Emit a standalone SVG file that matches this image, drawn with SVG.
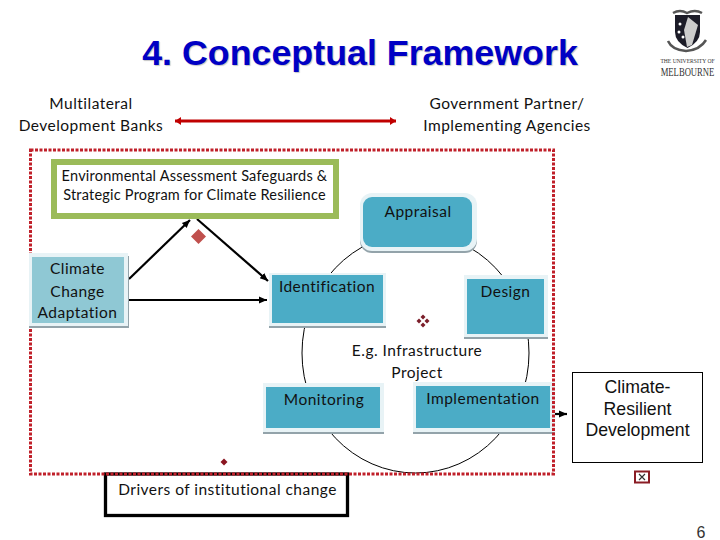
<svg xmlns="http://www.w3.org/2000/svg" width="720" height="540" viewBox="0 0 720 540">
<style>
text{font-family:"Lato","Carlito","Noto Sans",sans-serif;font-size:15.5px;fill:#111;text-anchor:middle;letter-spacing:.47px}
.title{font-family:"Liberation Sans",Arial,sans-serif;font-weight:bold;font-size:35.8px;fill:#0000c4;letter-spacing:0;text-shadow:1px 1px 1px #c4c4c4}
.ar{font-family:"Liberation Sans",Arial,sans-serif;font-size:17.7px;letter-spacing:0}
.sm{font-size:14.5px;letter-spacing:.22px}
.glow{fill:#e8f3f6}
.shade{fill:#93a3aa}
.blue{fill:#4bacc6}
.ln{fill:none;stroke:#000;stroke-width:2.2}
.thin{fill:none;stroke:#000;stroke-width:1}
.logo{font-family:"Liberation Serif",serif;letter-spacing:0;fill:#333}
</style>
<defs>
<marker id="bk" markerUnits="userSpaceOnUse" markerWidth="10" markerHeight="10" refX="8" refY="5" orient="auto"><path d="M0 1.500L8 5L0 8.500Z" fill="#000"/></marker>
<marker id="red" markerUnits="userSpaceOnUse" markerWidth="10" markerHeight="10" refX="6" refY="5" orient="auto-start-reverse"><path d="M0 1L6 5L0 9Z" fill="#c00000"/></marker>
</defs>
<rect width="720" height="540" fill="#fff"/>
<text class="title" x="360" y="65">4. Conceptual Framework</text>

<g id="logo">
<path d="M675 15H700V32Q700 42 687.500 48Q675 42 675 32Z" fill="#1c1c28"/>
<path d="M688 17L698 25L692 45L687 47L684 30Z" fill="#ccc"/>
<circle cx="680" cy="24" r="1.500" fill="#fff"/><circle cx="679" cy="32" r="1.500" fill="#fff"/><circle cx="683" cy="37" r="1.500" fill="#fff"/>
<path d="M673 13Q680 9 687 13Q695 9 702 13M668 41Q672 50 686 51Q700 50 706 40" fill="none" stroke="#555" stroke-width="2.500"/>
<text class="logo" x="687.500" y="63" style="font-size:5.600px">THE UNIVERSITY OF</text>
<text class="logo" transform="translate(687.500 76) scale(.72 1)" x="0" y="0" style="font-size:12px">MELBOURNE</text>
</g>

<g id="multilateral"><text x="91" y="109">Multilateral</text><text x="91" y="131">Development Banks</text></g>
<g id="government"><text x="507" y="109">Government Partner/</text><text x="507" y="131">Implementing Agencies</text></g>

<g id="connectors">
<ellipse class="thin" cx="415.500" cy="353" rx="113.500" ry="120"/>
<line x1="175" y1="121" x2="396" y2="121" stroke="#c00000" stroke-width="3" marker-start="url(#red)" marker-end="url(#red)"/>
<line class="ln" x1="129" y1="279" x2="190" y2="220" marker-end="url(#bk)"/>
<line class="ln" x1="197" y1="219" x2="268" y2="281" marker-end="url(#bk)"/>
<line class="ln" x1="128" y1="300" x2="267" y2="300" marker-end="url(#bk)"/>
<line class="ln" x1="555" y1="414" x2="567" y2="414" marker-end="url(#bk)"/>
</g>

<g id="identification"><rect class="shade" x="269" y="275" width="117" height="53"/><rect class="glow" x="269" y="273" width="117" height="53"/><rect class="blue" x="272" y="275" width="111" height="48"/><text x="327" y="292">Identification</text></g>
<g id="appraisal"><rect class="shade" x="360" y="196" width="117" height="57" rx="12"/><rect class="glow" x="360" y="193" width="117" height="58" rx="12"/><rect class="blue" x="363" y="197" width="109" height="50" rx="9"/><text x="418" y="217">Appraisal</text></g>
<g id="design"><rect class="shade" x="464" y="278" width="84" height="61"/><rect class="glow" x="464" y="275" width="84" height="62"/><rect class="blue" x="467" y="279" width="77" height="55"/><text x="505.500" y="297">Design</text></g>
<g id="monitoring"><rect class="shade" x="263" y="386" width="121" height="48"/><rect class="glow" x="263" y="383" width="121" height="49"/><rect class="blue" x="266" y="387" width="114" height="41"/><text x="324" y="405">Monitoring</text></g>
<g id="implementation"><rect class="shade" x="413" y="385" width="142" height="49"/><rect class="glow" x="413" y="382" width="142" height="50"/><rect class="blue" x="416" y="386" width="134" height="42"/><text x="483" y="404">Implementation</text></g>

<g id="project"><text x="417" y="356">E.g. Infrastructure</text><text x="417" y="378">Project</text></g>

<g id="drivers"><rect x="105.500" y="474" width="242" height="41.500" fill="#fff" stroke="#000" stroke-width="3.300"/><text x="227.500" y="495">Drivers of institutional change</text></g>

<rect id="frame" x="30.500" y="150" width="523" height="324" fill="none" stroke="#c0202a" stroke-width="3" stroke-dasharray="3 1.500"/>

<g id="safeguards"><rect x="54" y="162" width="282" height="54" fill="#fff" stroke="#9bbb59" stroke-width="6"/><text class="sm" x="194.500" y="181">Environmental Assessment Safeguards &amp;</text><text class="sm" x="194.500" y="200">Strategic Program for Climate Resilience</text></g>
<g id="climate-change"><rect class="shade" x="29" y="256" width="100" height="72"/><rect class="glow" x="29" y="253" width="99" height="73"/><rect x="32" y="257" width="92" height="66" fill="#8fc8d4"/><text x="77.500" y="274">Climate</text><text x="77.500" y="297">Change</text><text x="77.500" y="318">Adaptation</text></g>

<path id="mark-red" d="M198.500 229L206 236.500L198.500 244L191 236.500Z" fill="#c0504d"/>
<g id="mark-four" fill="#7b1e2a"><path d="M423 314.500l2.500 2.500l-2.500 2.500l-2.500-2.500Z"/><path d="M423 322.500l2.500 2.500l-2.500 2.500l-2.500-2.500Z"/><path d="M419 318.500l2.500 2.500l-2.500 2.500l-2.500-2.500Z"/><path d="M427 318.500l2.500 2.500l-2.500 2.500l-2.500-2.500Z"/></g>
<path id="mark-small" d="M224 458.500L227.500 462L224 465.500L220.500 462Z" fill="#8a1520"/>

<g id="climate-resilient"><rect x="572.500" y="372.500" width="130" height="90" fill="#fff" stroke="#000"/><text class="ar" x="637.500" y="393">Climate-</text><text class="ar" x="637.500" y="415">Resilient</text><text class="ar" x="637.500" y="436">Development</text></g>
<g id="mark-x" fill="none" stroke="#8a1c24"><rect x="635" y="471.500" width="14" height="11" stroke-width="2"/><path d="M639 474L645 480M645 474L639 480" stroke="#333" stroke-width="1.200"/></g>
<text class="ar" x="701" y="538" style="font-size:16px;fill:#333">6</text>
</svg>
